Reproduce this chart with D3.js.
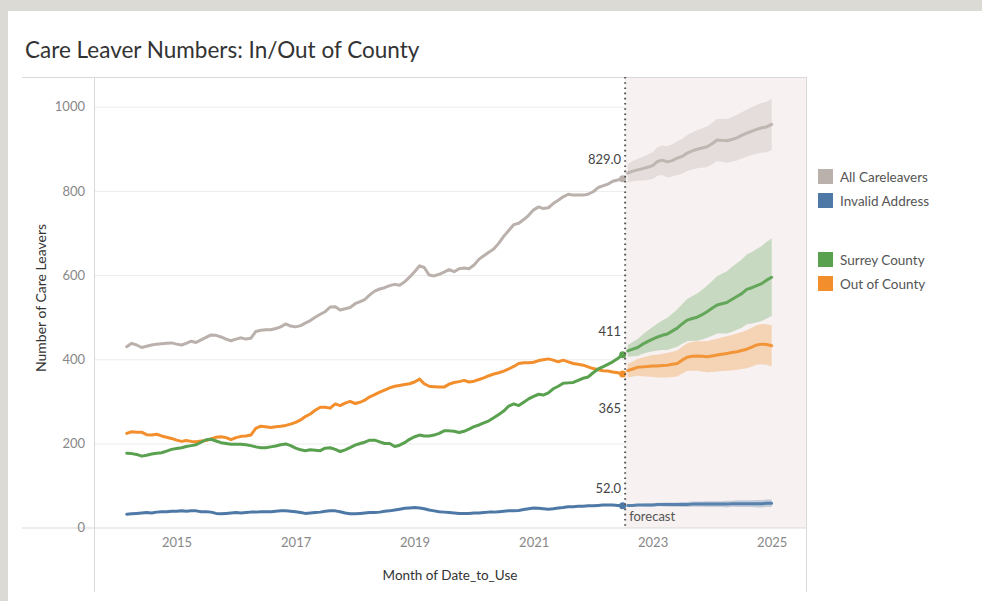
<!DOCTYPE html>
<html>
<head>
<meta charset="utf-8">
<script src="https://cdn.jsdelivr.net/npm/d3@7"></script>
<style>
  html, body { margin: 0; padding: 0; background: #dcdad4; }
  svg { display: block; font-family: Lato, "Open Sans", sans-serif; }
</style>
</head>
<body>
<div id="chart"></div>
<script>
// Monthly actuals, Mar 2014 - Jul 2022
const firstActual = new Date(2014, 2, 1);
const firstForecast = new Date(2022, 7, 1);

const allCareleavers = [
  430, 438, 434, 428, 431, 434, 436, 437, 438, 439,
  436, 434, 438, 443, 440, 446, 452, 458, 457, 453, 448, 444,
  448, 451, 448, 450, 466, 469, 470, 470, 473, 477, 484, 479,
  477, 480, 486, 492, 500, 507, 513, 524, 525, 517, 520, 523,
  532, 537, 542, 553, 562, 567, 570, 575, 578, 576, 584, 595,
  608, 622, 618, 600, 598, 602, 607, 613, 608, 615, 617, 615,
  624, 638, 646, 654, 662, 676, 692, 706, 720, 723, 732, 742,
  755, 762, 758, 760, 770, 778, 786, 792, 790, 790, 790, 792,
  798, 808, 812, 816, 823, 826, 829
];
const invalidAddress = [
  32, 33, 34, 35, 36, 35, 37, 38, 38, 39,
  39, 40, 39, 40, 40, 38, 38, 37, 34, 33, 34, 35,
  36, 35, 36, 37, 37, 38, 38, 38, 39, 40, 40, 39,
  38, 36, 34, 35, 36, 37, 39, 40, 40, 38, 35, 33,
  33, 34, 35, 36, 36, 37, 39, 40, 42, 44, 46, 47,
  48, 47, 45, 42, 40, 38, 37, 36, 35, 34, 34, 34,
  35, 35, 36, 37, 37, 38, 39, 40, 40, 41, 43, 45,
  47, 46, 45, 44, 45, 47, 48, 50, 50, 51, 51, 52,
  52, 53, 54, 54, 54, 53, 52
];
const surreyCounty = [
  177, 176, 174, 170, 172, 175, 177, 178, 182, 186,
  188, 190, 193, 195, 197, 203, 209, 210, 206, 202, 200, 198,
  198, 198, 197, 195, 192, 190, 190, 192, 194, 197, 199, 195,
  189, 185, 183, 185, 184, 183, 189, 190, 186, 181, 185, 190,
  196, 200, 203, 208, 208, 204, 200, 200, 193, 196, 202, 210,
  216, 220, 218, 218, 220, 224, 230, 230, 229, 226, 229, 234,
  240, 244, 249, 254, 261, 269, 277, 289, 294, 290, 298, 306,
  312, 317, 315, 320, 330, 336, 343, 344, 345, 350, 355, 358,
  368, 377, 382, 388, 394, 402, 411
];
const outOfCounty = [
  224, 228, 227, 227, 221, 220, 222, 218, 215, 212,
  208, 205, 207, 205, 204, 206, 207, 211, 215, 216, 214, 209,
  214, 217, 218, 220, 236, 241, 240, 238, 240, 241, 243, 246,
  250, 256, 264, 270, 279, 286, 286, 284, 294, 290, 296, 300,
  295, 298, 303, 311, 316, 322, 327, 332, 336, 338, 340, 342,
  346, 353, 342, 336, 335, 334, 334, 341, 345, 347, 350, 346,
  348, 352, 356, 361, 365, 368, 372, 377, 383, 390, 392, 392,
  393, 397, 399, 401, 398, 394, 398, 394, 390, 388, 386, 382,
  378, 375, 373, 372, 370, 368, 365
];

// Forecast, Aug 2022 - Jan 2025 (estimate, upper, lower)
const allFc = [842, 847, 850, 853, 856, 860, 870, 873, 869, 872, 878, 882, 890, 895, 899, 902, 905, 912, 921, 920, 919, 922, 926, 932, 937, 942, 946, 950, 952, 958];
const allFcHigh = [864, 871, 876, 881, 886, 892, 904, 908, 906, 910, 918, 923, 933, 939, 944, 949, 953, 961, 971, 971, 971, 975, 980, 987, 993, 999, 1004, 1009, 1012, 1019];
const allFcLow = [820, 823, 824, 825, 826, 828, 836, 838, 832, 834, 838, 841, 847, 851, 854, 855, 857, 863, 871, 869, 867, 869, 872, 877, 881, 885, 888, 891, 892, 897];

const invalidFc = [53, 53, 54, 54, 54, 54, 55, 55, 55, 55, 55, 55, 55, 56, 56, 56, 56, 56, 56, 56, 56, 57, 57, 57, 57, 57, 57, 57, 58, 58];
const invalidFcHigh = [55, 56, 57, 57, 58, 58, 59, 59, 60, 60, 60, 61, 61, 62, 62, 62, 63, 63, 63, 63, 64, 64, 65, 65, 65, 65, 66, 66, 67, 67];
const invalidFcLow = [51, 50, 51, 51, 50, 50, 51, 51, 50, 50, 50, 49, 49, 50, 50, 50, 49, 49, 49, 49, 48, 50, 49, 49, 49, 49, 48, 48, 49, 49];

const surreyFc = [420, 424, 428, 436, 442, 448, 453, 457, 460, 467, 474, 484, 493, 497, 500, 506, 513, 521, 529, 532, 535, 542, 549, 556, 566, 570, 575, 580, 588, 595];
const surreyFcHigh = [434, 441, 448, 459, 468, 477, 485, 492, 498, 508, 518, 531, 543, 550, 556, 565, 575, 586, 597, 603, 609, 619, 628, 637, 649, 655, 662, 669, 679, 687];
const surreyFcLow = [406, 407, 408, 413, 416, 419, 421, 422, 422, 426, 430, 437, 443, 444, 444, 447, 451, 456, 461, 461, 461, 465, 470, 475, 483, 485, 488, 491, 497, 503];

const outFc = [373, 377, 381, 382, 383, 384, 384, 385, 386, 388, 390, 398, 405, 407, 408, 407, 406, 408, 410, 412, 414, 416, 418, 421, 424, 429, 434, 436, 435, 432];
const outFcHigh = [389, 395, 401, 404, 407, 410, 411, 413, 415, 418, 421, 430, 438, 441, 443, 443, 443, 446, 449, 452, 455, 458, 461, 465, 469, 475, 481, 484, 483, 481];
const outFcLow = [357, 359, 361, 360, 359, 358, 357, 357, 357, 358, 359, 366, 372, 373, 373, 371, 369, 370, 371, 372, 373, 374, 375, 377, 379, 383, 387, 388, 387, 383];

const yTicks = [0, 200, 400, 600, 800, 1000];
const xTickYears = [2015, 2017, 2019, 2021, 2023, 2025];
const legendOne = ['All Careleavers', 'Invalid Address'];
const legendTwo = ['Surrey County', 'Out of County'];

const colors = {
  'All Careleavers': '#bab0ac',
  'Invalid Address': '#4e79a7',
  'Surrey County': '#59a14f',
  'Out of County': '#f28e2b'
};

const series = [
  { name: 'All Careleavers', actual: allCareleavers, fc: allFc, hi: allFcHigh, lo: allFcLow, fmt: '.1f', dy: -15 },
  { name: 'Invalid Address', actual: invalidAddress, fc: invalidFc, hi: invalidFcHigh, lo: invalidFcLow, fmt: '.1f', dy: -13 },
  { name: 'Out of County', actual: outOfCounty, fc: outFc, hi: outFcHigh, lo: outFcLow, fmt: 'd', dy: 39 },
  { name: 'Surrey County', actual: surreyCounty, fc: surreyFc, hi: surreyFcHigh, lo: surreyFcLow, fmt: 'd', dy: -19 }
];

const W = 982, H = 601;
const plot = { left: 94, right: 806, top: 77, bottom: 528 };

const svg = d3.select('#chart').append('svg')
  .attr('width', W)
  .attr('height', H);

// white card
svg.append('rect')
  .attr('x', 8).attr('y', 11)
  .attr('width', W - 8).attr('height', H - 11)
  .attr('fill', '#fff');

svg.append('text')
  .attr('x', 25).attr('y', 58)
  .attr('font-size', 22.5)
  .attr('fill', '#333')
  .text('Care Leaver Numbers: In/Out of County');

const actualMonths = allCareleavers.map((_, i) => d3.timeMonth.offset(firstActual, i));
const fcMonths = allFc.map((_, i) => d3.timeMonth.offset(firstForecast, i));

const x = d3.scaleTime()
  .domain([firstActual, fcMonths[fcMonths.length - 1]])
  .range([126.7, 771.7]);

const y = d3.scaleLinear()
  .domain([0, 1000])
  .range([527.7, 106.7]);

// gridlines
svg.append('g')
  .attr('transform', `translate(${plot.left},0)`)
  .call(d3.axisLeft(y).tickValues(yTicks.slice(1)).tickSize(-(plot.right - plot.left)).tickFormat(''))
  .call(g => g.select('.domain').remove())
  .call(g => g.selectAll('line').attr('stroke', '#ececec'));

// forecast background
const splitX = (x(actualMonths[actualMonths.length - 1]) + x(fcMonths[0])) / 2;
svg.append('rect')
  .attr('x', splitX).attr('y', plot.top)
  .attr('width', plot.right - splitX).attr('height', plot.bottom - plot.top)
  .attr('fill', '#f7f1f1');

// frame lines
const frame = svg.append('g').attr('stroke', '#d9d9d9').attr('fill', 'none');
frame.append('line').attr('x1', 22).attr('x2', plot.right).attr('y1', plot.top + 0.5).attr('y2', plot.top + 0.5);
frame.append('line').attr('x1', 22).attr('x2', plot.right).attr('y1', plot.bottom).attr('y2', plot.bottom);
frame.append('line').attr('x1', plot.left + 0.5).attr('x2', plot.left + 0.5).attr('y1', plot.top).attr('y2', 592);
frame.append('line').attr('x1', plot.right + 0.5).attr('x2', plot.right + 0.5).attr('y1', plot.top).attr('y2', 592);

// axes
svg.append('g')
  .attr('transform', `translate(${plot.left},0)`)
  .call(d3.axisLeft(y).tickValues(yTicks).tickSize(0).tickPadding(9).tickFormat(d3.format('d')))
  .call(g => g.select('.domain').remove())
  .call(g => g.selectAll('text').attr('fill', '#888').attr('font-size', 13).attr('font-family', 'Lato, sans-serif'));

svg.append('g')
  .attr('transform', `translate(0,${plot.bottom})`)
  .call(d3.axisBottom(x).tickValues(xTickYears.map(yr => new Date(yr, 0, 1))).tickSize(0).tickPadding(10).tickFormat(d3.timeFormat('%Y')))
  .call(g => g.select('.domain').remove())
  .call(g => g.selectAll('text').attr('fill', '#888').attr('font-size', 13).attr('font-family', 'Lato, sans-serif'));

svg.append('text')
  .attr('transform', 'translate(46,298) rotate(-90)')
  .attr('text-anchor', 'middle')
  .attr('font-size', 14)
  .attr('fill', '#333')
  .text('Number of Care Leavers');

svg.append('text')
  .attr('x', (plot.left + plot.right) / 2).attr('y', 580)
  .attr('text-anchor', 'middle')
  .attr('font-size', 13.5)
  .attr('fill', '#333')
  .text('Month of Date_to_Use');

// bands, lines
const band = d3.area()
  .x((d, i) => x(fcMonths[i]))
  .y0((d, i) => y(d[0]))
  .y1((d, i) => y(d[1]));

const actualLine = d3.line().x((d, i) => x(actualMonths[i])).y(d => y(d));
const fcLine = d3.line().x((d, i) => x(fcMonths[i])).y(d => y(d));

const bandGroup = svg.append('g');
series.forEach(s => {
  bandGroup.append('path')
    .datum(s.lo.map((v, i) => [v, s.hi[i]]))
    .attr('d', band)
    .attr('fill', colors[s.name])
    .attr('fill-opacity', 0.3);
});

const lineGroup = svg.append('g').attr('fill', 'none').attr('stroke-width', 3)
  .attr('stroke-linejoin', 'round').attr('stroke-linecap', 'round');
series.forEach(s => {
  lineGroup.append('path').datum(s.actual).attr('d', actualLine).attr('stroke', colors[s.name]);
  lineGroup.append('path').datum(s.fc).attr('d', fcLine).attr('stroke', colors[s.name]).attr('stroke-opacity', 0.9);
  const last = s.actual[s.actual.length - 1];
  svg.append('circle')
    .attr('cx', x(actualMonths[actualMonths.length - 1]))
    .attr('cy', y(last))
    .attr('r', 3.5)
    .attr('fill', colors[s.name]);
});

// forecast divider
svg.append('line')
  .attr('x1', splitX).attr('x2', splitX)
  .attr('y1', plot.top).attr('y2', plot.bottom)
  .attr('stroke', '#555')
  .attr('stroke-width', 2)
  .attr('stroke-dasharray', '1.6,3.6');

// end labels
series.forEach(s => {
  const last = s.actual[s.actual.length - 1];
  svg.append('text')
    .attr('x', splitX - 4)
    .attr('y', y(last) + s.dy)
    .attr('text-anchor', 'end')
    .attr('font-size', 13)
    .attr('fill', '#444')
    .text(d3.format(s.fmt)(last));
});

svg.append('text')
  .attr('x', splitX + 4).attr('y', 521)
  .attr('font-size', 13)
  .attr('fill', '#555')
  .text('forecast');

// legend
const legend = svg.append('g').attr('font-size', 13.5).attr('fill', '#555');
[[legendOne, 169], [legendTwo, 252]].forEach(([names, top]) => {
  names.forEach((n, i) => {
    const g = legend.append('g').attr('transform', `translate(818,${top + i * 24})`);
    g.append('rect').attr('width', 15).attr('height', 15).attr('fill', colors[n]);
    g.append('text').attr('x', 22).attr('y', 12.5).text(n);
  });
});
</script>
</body>
</html>
